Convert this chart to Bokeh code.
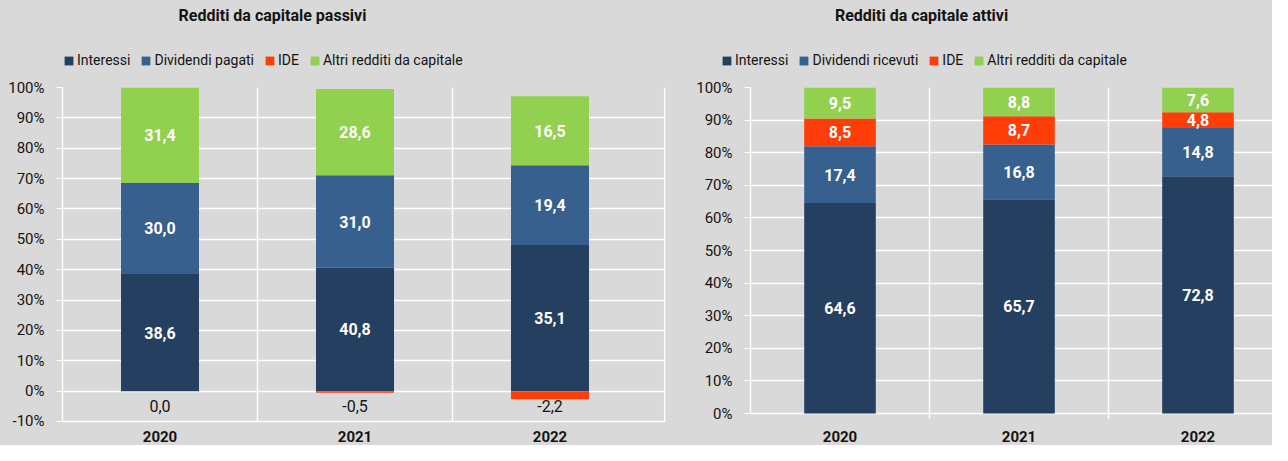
from bokeh.plotting import figure
from bokeh.models import (ColumnDataSource, FixedTicker, Legend, LegendItem, Label,
                          LabelSet, PrintfTickFormatter)
from bokeh.core.properties import value
from bokeh.layouts import row, column
from bokeh.embed import file_html
from bokeh.resources import INLINE

# ---------------- data ----------------
years = ["2020", "2021", "2022"]
series_names_passivi = ["Interessi", "Dividendi pagati", "IDE", "Altri redditi da capitale"]
series_names_attivi = ["Interessi", "Dividendi ricevuti", "IDE", "Altri redditi da capitale"]

# Redditi da capitale passivi: bar heights (share, %) as drawn
pas_interessi = [38.6, 40.6, 48.1]
pas_dividendi = [30.0, 30.5, 26.3]
pas_ide = [0.0, -0.5, -2.7]
pas_altri = [31.4, 28.4, 22.7]
# Redditi da capitale passivi: printed labels
pas_lbl_interessi = [38.6, 40.8, 35.1]
pas_lbl_dividendi = [30.0, 31.0, 19.4]
pas_lbl_ide = [0.0, -0.5, -2.2]
pas_lbl_altri = [31.4, 28.6, 16.5]

# Redditi da capitale attivi (%)
att_interessi = [64.6, 65.7, 72.8]
att_dividendi = [17.4, 16.8, 14.8]
att_ide = [8.5, 8.7, 4.8]
att_altri = [9.5, 8.8, 7.6]

# ---------------- style ----------------
BG = "#d9d9d9"
C_INT = "#253f60"
C_DIV = "#37608f"
C_IDE = "#ff3d08"
C_ALT = "#92d050"
COLORS = [C_INT, C_DIV, C_IDE, C_ALT]
TXT = "#141414"
FONT = "Roboto"
STRIP_H = 77
CH_H = 368
W = 1272
L_W = 686
R_W = W - L_W


def fmt(v):
    return f"{v:.1f}".replace(".", ",")


def style_bg(p):
    p.background_fill_color = BG
    p.border_fill_color = BG
    p.outline_line_color = None
    p.xgrid.visible = False


def style_yaxis(p, y_start):
    ya = p.yaxis[0]
    ya.ticker = FixedTicker(ticks=list(range(y_start, 101, 10)))
    ya.bounds = (y_start, 100)
    ya.formatter = PrintfTickFormatter(format="%d%%")
    ya.axis_line_color = "white"
    ya.axis_line_width = 1.5
    ya.major_tick_line_color = "white"
    ya.major_tick_out = 6
    ya.major_tick_in = 0
    ya.minor_tick_line_color = None
    ya.major_label_standoff = 12
    ya.major_label_text_font = FONT
    ya.major_label_text_font_size = "15px"
    ya.major_label_text_color = TXT
    p.ygrid.ticker = FixedTicker(ticks=list(range(y_start, 101, 10)))
    p.ygrid.grid_line_color = "white"
    p.ygrid.grid_line_width = 1.5


def stacked(p, segs):
    for (bottom, top), col in zip(segs, COLORS):
        src = ColumnDataSource(dict(x=[0, 1, 2], bottom=bottom, top=top))
        p.vbar(x="x", width=0.4, bottom="bottom", top="top", source=src,
               fill_color=col, line_color=None)


def text_set(p, ys, texts, color, size, bold):
    src = ColumnDataSource(dict(x=[0, 1, 2], y=ys, t=texts))
    p.add_layout(LabelSet(x="x", y="y", text="t", source=src, text_align="center",
                          text_baseline="middle", text_color=value(color),
                          text_font=value(FONT), text_font_size=value(size),
                          text_font_style=value("bold" if bold else "normal")))


def labels(p, bottom, top, vals):
    ys = [(b + t) / 2 for b, t in zip(bottom, top)]
    text_set(p, ys, [fmt(v) for v in vals], "white", "16px", True)


# ---------------- top strip: titles and legends ----------------
ps = figure(width=W, height=STRIP_H, x_range=(0, W), y_range=(STRIP_H, 0),
            x_axis_type=None, y_axis_type=None, output_backend="svg", toolbar_location=None,
            min_border=0)
style_bg(ps)
ps.ygrid.visible = False
dummies = [ps.rect(x=[-100], y=[-100], width=1, height=1, fill_color=c, line_color=None)
           for c in COLORS]


def add_legend(names, loc):
    leg = Legend(items=[LegendItem(label=n, renderers=[r]) for n, r in zip(names, dummies)],
                 orientation="horizontal", location=loc, padding=0, margin=0,
                 border_line_color=None, background_fill_alpha=0,
                 glyph_width=11, glyph_height=11, label_standoff=3, spacing=10,
                 label_height=20, label_text_font=FONT, label_text_font_size="14px",
                 label_text_color=TXT)
    ps.add_layout(leg, "center")


add_legend(series_names_passivi, (63, 7))
add_legend(series_names_attivi, (721, 7))
for tx, cx in (("Redditi da capitale passivi", 272), ("Redditi da capitale attivi", 921)):
    ps.add_layout(Label(x=cx, y=15, text=tx, text_align="center", text_baseline="middle",
                        text_font=FONT, text_font_size="16px", text_font_style="bold",
                        text_color=TXT))

# ---------------- left: passivi ----------------
l_xend = -0.5 + 603 / 195
l_ybot = -10 - 24 / 3.036
pl = figure(width=L_W, height=CH_H, x_range=(-0.5, l_xend), y_range=(l_ybot, 100),
            x_axis_type=None, output_backend="svg", toolbar_location=None,
            min_border_left=62, min_border_right=21, min_border_top=10, min_border_bottom=0)
style_bg(pl)
style_yaxis(pl, -10)
pl.segment(x0=[0.5, 1.5, l_xend - 0.004], y0=[-10] * 3, x1=[0.5, 1.5, l_xend - 0.004],
           y1=[100] * 3, line_color="white", line_width=1.5)

b0 = [0, 0, 0]
i_top = pas_interessi
d_top = [a + b for a, b in zip(i_top, pas_dividendi)]
a_top = [a + b for a, b in zip(d_top, pas_altri)]
stacked(pl, [(b0, i_top), (i_top, d_top), (pas_ide, b0), (d_top, a_top)])
labels(pl, b0, i_top, pas_lbl_interessi)
labels(pl, i_top, d_top, pas_lbl_dividendi)
labels(pl, d_top, a_top, pas_lbl_altri)
text_set(pl, [-5, -5, -5], [fmt(v) for v in pas_lbl_ide], TXT, "16px", False)
text_set(pl, [-15.0] * 3, years, TXT, "15px", True)

# ---------------- right: attivi ----------------
r_ybot = -(455 - 423) / 3.26
pr = figure(width=R_W, height=CH_H, x_range=(-0.5, -0.5 + 522 / 179), y_range=(r_ybot, 100),
            x_axis_type=None, output_backend="svg", toolbar_location=None,
            min_border_left=64, min_border_right=0, min_border_top=10, min_border_bottom=0)
style_bg(pr)
style_yaxis(pr, 0)
pr.segment(x0=[0.5, 1.5], y0=[-1.6, -1.6], x1=[0.5, 1.5], y1=[100, 100],
           line_color="white", line_width=1.5)

r_i = att_interessi
r_d = [a + b for a, b in zip(r_i, att_dividendi)]
r_e = [a + b for a, b in zip(r_d, att_ide)]
r_a = [a + b for a, b in zip(r_e, att_altri)]
stacked(pr, [(b0, r_i), (r_i, r_d), (r_d, r_e), (r_e, r_a)])
labels(pr, b0, r_i, att_interessi)
labels(pr, r_i, r_d, att_dividendi)
labels(pr, r_d, r_e, att_ide)
labels(pr, r_e, r_a, att_altri)
text_set(pr, [-7.1] * 3, years, TXT, "15px", True)

page = column(ps, row(pl, pr, spacing=0), spacing=0)
page.styles = {"background-color": BG}
open("out.html", "w").write(file_html(page, INLINE))
